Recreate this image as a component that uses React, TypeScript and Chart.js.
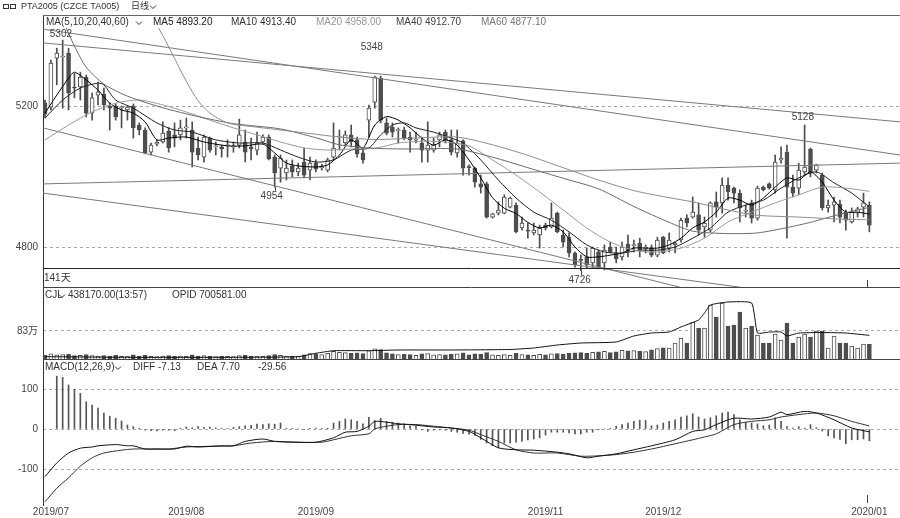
import React, { useEffect, useRef } from 'react';
import { Chart, registerables } from 'chart.js';

Chart.register(...registerables);

// ---------------- data ----------------
const OPEN = [5209,5197,5336,5339,5350,5253,5254,5282,5180,5231, 5234,5200,5200,5195,5189,5200,5146,5132,5069,5092, 5098,5129,5118,5118,5138,5132,5081,5055,5109,5084, 5084,5087,5084,5089,5098,5084,5075,5098,5112,5055, 5024,5010,5030,5013,5041,5018,5038,5025,5018,5055, 5112,5095,5118,5104,5067,5160,5211,5279,5152,5140, 5130,5132,5112,5103,5095,5075,5075,5104,5126,5104, 5067,5101,5028,5024,4979,4979,4885,4896,4896,4913, 4919,4854,4847,4840,4834,4862,4857,4896,4834,4828, 4783,4764,4772,4755,4786,4755,4800,4783,4772,4808, 4804,4811,4796,4797,4777,4828,4797,4806,4820,4882, 4885,4891,4857,4848,4928,4925,4976,4967,4953,4902, 4925,4882,4970,4979,4962,5047,5069,4970,4967,5013, 5078,5018,5004,4911,4919,4922,4899,4871,4896,4913, 4919];
const HIGH = [5217,5330,5364,5387,5364,5293,5296,5288,5237,5268, 5251,5209,5206,5200,5200,5206,5152,5138,5095,5104, 5155,5138,5152,5160,5166,5155,5112,5118,5112,5098, 5089,5104,5098,5163,5132,5109,5126,5118,5118,5061, 5061,5047,5047,5038,5081,5055,5047,5035,5052,5152, 5132,5129,5146,5112,5081,5203,5285,5285,5166,5152, 5138,5140,5126,5126,5112,5155,5109,5126,5132,5132, 5132,5104,5033,5027,5004,4984,4896,4928,4948,4942, 4925,4885,4868,4868,4862,4868,4925,4899,4848,4840, 4786,4777,4797,4800,4791,4806,4814,4800,4814,4834, 4820,4825,4806,4806,4828,4830,4840,4814,4882,4891, 4942,4925,4885,4928,4956,4996,4996,4970,4962,4919, 4933,4973,4973,4982,5061,5084,5089,5004,5038,5146, 5081,5035,5010,4933,4942,4933,4905,4911,4913,4953, 4928];
const LOW = [5166,5189,5260,5194,5189,5223,5217,5169,5160,5203, 5189,5132,5160,5138,5160,5109,5118,5064,5061,5087, 5095,5069,5084,5104,5109,5027,5047,5041,5069,5061, 5055,5055,5069,5081,5041,5047,5061,5095,5047,4970, 4984,4990,4999,5002,4996,4990,5013,5018,5013,5047, 5075,5090,5084,5055,5038,5112,5194,5152,5118,5112, 5095,5104,5069,5095,5041,5041,5069,5084,5095,5061, 5055,5004,5004,4970,4953,4882,4882,4891,4894,4911, 4840,4848,4825,4834,4797,4848,4854,4840,4800,4772, 4743,4733,4741,4743,4738,4735,4783,4755,4763,4772, 4786,4772,4783,4772,4772,4781,4786,4783,4814,4857, 4882,4834,4828,4843,4885,4896,4933,4925,4871,4885, 4868,4876,4959,4964,4953,5038,4825,4942,4948,5004, 4999,5010,4905,4899,4871,4868,4848,4868,4885,4885, 4843];
const CLOSE = [5177,5322,5350,5342,5237,5251,5282,5180,5223,5240, 5203,5194,5169,5198,5197,5138,5132,5067,5089,5098, 5123,5081,5109,5138,5141,5069,5061,5112,5075,5086, 5078,5089,5087,5118,5069,5078,5095,5112,5050,5010, 5052,5024,5013,5024,5004,5038,5021,5028,5047,5081, 5115,5118,5098,5064,5047,5194,5282,5160,5123,5126, 5133,5109,5104,5105,5075,5089,5089,5118,5104,5069, 5095,5024,5025,4984,4970,4885,4894,4905,4942,4939, 4843,4868,4845,4848,4854,4854,4882,4843,4814,4783, 4749,4762,4749,4797,4743,4791,4786,4766,4800,4789, 4807,4791,4798,4777,4820,4783,4820,4811,4876,4868, 4899,4848,4868,4925,4913,4976,4956,4953,4911,4905, 4882,4967,4962,4967,5041,5052,4970,4953,5018,5027, 5010,5033,4911,4919,4928,4885,4876,4899,4908,4925, 4862];

// volume in 万 (10k lots)
const VOLUME = [11,15,12,13,14,10,11,13,10,9, 10,9,11,8,9,12,9,11,8,7, 9,10,8,9,8,12,9,10,9,7, 8,8,7,10,11,9,9,8,10,13, 11,9,9,8,12,16,15,13,17,23, 20,19,17,18,16,25,30,28,18,15, 13,14,13,11,15,16,12,13,12,14, 15,18,12,15,14,19,12,11,13,11, 17,13,12,11,14,12,15,16,14,17, 18,19,17,20,21,23,19,21,26,24, 25,23,22,27,31,33,32,47.4,62.2,47.4, 109.7,91.9,91.9,160.1,124.5,166,97.8,100.8,139.3,91.9, 97.8,71.1,47.4,47.4,74.1,56.3,106.7,47.4,65.2,74.1, 65.2,83,83,32.6,68.2,47.4,47.4,38.5,32.6,44.5, 43.817];
// open interest (万), read at [day index, value]
const OPID_PTS = [[0,7],[14,5],[32,5],[43,6.8],[46,17],[49,24.6],[55,24.6],[60,26.7],[69,26.7],[79,28.2],[83,32.6],[87,41.5],[91,47.4],[97,50.4],[100,68.2],[103,77.1],[106,80],[108,94.9],[111,115.6],[112,136.4],[113,160.1],[116,169],[120,166],[121,77.1],[123,80],[125,80],[126,68.2],[128,77],[132,78.5],[136,77],[140,70.0581]];

const MA5_PTS = [[0,5180],[2,5231],[4,5279],[5,5296],[7,5274],[9,5245],[11,5208],[13,5189],[15,5180],[17,5155],[19,5104],[21,5109],[24,5112],[27,5098],[31,5087],[34,5087],[37,5092],[39,5067],[41,5038],[43,5030],[46,5027],[48,5033],[50,5061],[52,5104],[54,5081],[56,5146],[58,5170],[60,5160],[62,5138],[64,5109],[66,5089],[68,5104],[70,5089],[72,5047],[74,4996],[76,4940],[78,4910],[80,4895],[82,4870],[84,4854],[86,4862],[88,4843],[90,4800],[92,4772],[94,4772],[96,4777],[98,4783],[100,4797],[102,4797],[104,4797],[106,4806],[108,4825],[110,4854],[112,4871],[114,4899],[116,4939],[118,4933],[120,4919],[122,4939],[124,4970],[126,4996],[128,4990],[130,5013],[132,4984],[134,4933],[136,4899],[138,4899],[140,4893.2]];
const MA10_PTS = [[0,5166],[3,5217],[6,5251],[9,5265],[10,5260],[12,5217],[15,5194],[19,5152],[22,5132],[25,5126],[29,5104],[33,5095],[37,5095],[40,5075],[43,5055],[46,5041],[49,5047],[52,5075],[55,5081],[57,5118],[59,5146],[61,5152],[63,5138],[66,5126],[69,5109],[71,5095],[74,5047],[77,4990],[80,4939],[83,4899],[86,4876],[89,4843],[92,4806],[95,4786],[98,4783],[101,4791],[104,4791],[107,4800],[110,4825],[113,4854],[116,4899],[119,4919],[122,4933],[125,4967],[128,4996],[131,5013],[134,4982],[137,4953],[140,4913.4]];
const MA20_PTS = [[0,5104],[4,5146],[8,5183],[12,5208],[16,5217],[20,5203],[24,5183],[28,5160],[32,5138],[36,5118],[40,5098],[44,5081],[48,5075],[52,5078],[56,5080],[60,5095],[64,5100],[68,5098],[72,5087],[76,5047],[80,5004],[84,4956],[88,4905],[92,4854],[96,4814],[100,4791],[104,4786],[108,4797],[112,4825],[116,4871],[120,4899],[124,4925],[128,4948],[132,4970],[136,4967],[140,4958]];
const MA40_PTS = [[3,5444],[5,5370],[7,5310],[10,5262],[14,5228],[20,5195],[26,5170],[32,5150],[40,5135],[46,5110],[50,5090],[56,5080],[62,5078],[70,5078],[76,5055],[82,5025],[88,4995],[94,4965],[100,4915],[106,4870],[110,4845],[116,4838],[121,4840],[126,4855],[130,4870],[135,4893],[140,4912.7]];
const MA60_PTS = [[18,5458],[20,5400],[22,5335],[24,5270],[26,5215],[28,5180],[31,5152],[36,5140],[43,5126],[50,5112],[56,5105],[64,5110],[70,5112],[76,5090],[82,5060],[88,5025],[94,4990],[100,4960],[106,4940],[110,4928],[116,4905],[121,4890],[128,4885],[134,4880],[140,4877.1]];

// user drawn trend lines: [startIndex, startPrice, endIndex, endPrice]
const TREND_LINES = [[-0.34,5379,145.2,5155],[-0.34,5418,145.2,5061],[-0.34,5138,107.8,4686],[-0.34,4953,118,4686],[-0.34,4979,145.2,5038]];

const MACD_HIST = [null,null,132,129,110,99,89,68,60,52, 40,32,27,20,10,6,2,-3,-4,-5, -3,-3,-4,2,5,3,6,4,5,3, 2,1,4,6,8,9,12,11,13,12, 15,2,1,0,-1,1,2,1,2,15, 19,25,23,19,13,29,21,27,19,17, 15,13,8,7,-2,-6,-3,-2,-3,-6, -8,-11,-13,-16,-26,-35,-42,-47,-35,-35, -33,-31,-27,-25,-22,-15,-8,-8,-8,-10, -12,-12,-8,-8,-2,0,2,7,11,15, 19,22,21,8,10,15,19,23,30,33, 38,30,25,28,33,40,42,36,23,17, 15,13,8,10,28,19,6,2,6,2, 11,3,-5,-17,-22,-26,-37,-27,-27,-25, -29.56];
const DIFF_PTS = [[0,-119],[2,-85],[4,-60],[6,-48],[8,-45],[9,-42],[12,-39],[14,-42],[15,-42],[17,-50],[19,-50],[22,-50],[24,-43],[26,-45],[30,-42],[32,-42],[34,-31],[37,-25],[39,-31],[42,-33],[46,-33],[49,-22],[51,-8],[53,-6],[55,7],[56,19],[58,17],[60,13],[62,11],[66,5],[69,2.5],[72,-6],[74,-22],[77,-47],[80,-52],[83,-53],[87,-58],[89,-62],[92,-72],[94,-68],[97,-62],[100,-52],[103,-42],[107,-27],[110,-6],[112,-2],[114,11],[117,27],[120,25],[123,30],[125,42],[126,36],[129,44],[131,40],[134,23],[137,2.5],[140,-7.13]];
const DEA_PTS = [[0,-182],[2,-148],[4,-122],[6,-93],[8,-72],[10,-60],[13,-53],[15,-50],[18,-50],[21,-50],[24,-45],[29,-43],[32,-42],[35,-35],[39,-31],[43,-33],[47,-33],[49,-27],[52,-17],[55,-12],[56,0],[58,7],[60,11],[63,11],[66,7],[69,2.5],[72,-3],[74,-14],[77,-31],[80,-52],[83,-60],[87,-60],[91,-68],[94,-67],[97,-64],[100,-58],[103,-50],[107,-37],[110,-27],[112,-20],[114,-12],[117,11],[120,19],[123,23],[125,30],[128,36],[131,40],[134,33],[137,19],[140,7.7]];

const MONTH_IDX = [1, 24, 46, 85, 105, 140];
const MONTH_LABELS = ['2019/07', '2019/08', '2019/09', '2019/11', '2019/12', '2020/01'];
const PRICE_TICKS = [5200, 4800];
const VOL_TICKS = [83];
const MACD_TICKS = [100, 0, -100];

const ANNOT_TEXT = ['5302', '5348', '4954', '4726', '5128'];
const ANNOT_IDX = [2.7, 55.5, 38.5, 90.8, 128.7];
const ANNOT_PRICE = [5404, 5367, 4945, 4706, 5169];
const ANNOT_CANDLE = [3, 56, 39, 91, 129];

// ---------------- layout / style ----------------
const W = 900, H = 518;
const FONT = '"Liberation Sans", "Noto Sans CJK SC", sans-serif';
const INK = '#333';
const DARK = '#4d4d4d';
const X_MIN = -0.34, X_MAX = 145.2;
const P_MIN = 4068.1, P_MAX = 5458.2;
const V_MIN = -432.79, V_MAX = 1019.71;
const M_MIN = -190, M_MAX = 1035;
const PRICE_BOTTOM = 268;
const ROW_BOTTOM = 287;
const PRICE_CLIP = { left: 0, right: 0, top: -13, bottom: -(505 - ROW_BOTTOM) };

const pts = (a: number[][]) => a.map(([x, y]) => ({ x, y }));
const idx = OPEN.map((_, i) => i);
const up = (i: number) => CLOSE[i] >= OPEN[i];

function chev(ctx: CanvasRenderingContext2D, x: number, y: number) {
  ctx.beginPath();
  ctx.moveTo(x, y - 1.5);
  ctx.lineTo(x + 3, y + 1.5);
  ctx.lineTo(x + 6, y - 1.5);
  ctx.stroke();
}

const decor = {
  id: 'decor',
  afterDraw(chart: any) {
    const { ctx, chartArea: ca, scales } = chart;
    const xs = scales.x, yP = scales.yP, yV = scales.yV;
    ctx.save();
    const hl = (y: number, x0: number, x1: number, c: string) => {
      ctx.strokeStyle = c; ctx.lineWidth = 1;
      ctx.beginPath(); ctx.moveTo(x0, Math.round(y) + 0.5); ctx.lineTo(x1, Math.round(y) + 0.5); ctx.stroke();
    };
    hl(ca.top, ca.left, ca.right, '#666');
    hl(PRICE_BOTTOM, ca.left, ca.right, '#222');
    hl(ROW_BOTTOM, ca.left, ca.right, '#444');
    hl(yV.getPixelForValue(0), ca.left, ca.right, '#444');

    const txt = (s: string, x: number, y: number, color = INK, size = 10, align: CanvasTextAlign = 'left') => {
      ctx.font = `${size}px ${FONT}`; ctx.fillStyle = color; ctx.textAlign = align; ctx.textBaseline = 'middle';
      ctx.fillText(s, x, y);
    };
    ctx.strokeStyle = '#333'; ctx.lineWidth = 1;
    // top title
    ctx.strokeRect(3.5, 4.5, 5, 4); ctx.strokeRect(10.5, 4.5, 5, 4);
    txt('PTA2005 (CZCE TA005)', 21, 7, INK, 9);
    txt('日线', 131, 7, INK, 9);
    ctx.strokeStyle = '#333'; chev(ctx, 150, 7);
    // price header
    txt('MA(5,10,20,40,60)', 46, 22);
    chev(ctx, 136, 23);
    txt('MA5 4893.20', 153, 22, '#222');
    txt('MA10 4913.40', 231, 22, '#333');
    txt('MA20 4958.00', 316, 22, '#999');
    txt('MA40 4912.70', 396, 22, '#444');
    txt('MA60 4877.10', 481, 22, '#777');
    // days row
    txt('141天', 44, 278);
    // volume header
    txt('CJL', 45, 295); chev(ctx, 59, 296);
    txt('438170.00(13:57)', 68, 295);
    txt('OPID 700581.00', 172, 295);
    // macd header
    txt('MACD(12,26,9)', 45, 367); chev(ctx, 115, 368);
    txt('DIFF -7.13', 133, 367);
    txt('DEA 7.70', 197, 367);
    txt('-29.56', 258, 367);
    // high/low annotations
    for (let k = 0; k < ANNOT_TEXT.length; k++) {
      const ax = xs.getPixelForValue(ANNOT_IDX[k]);
      const ay = yP.getPixelForValue(ANNOT_PRICE[k]);
      txt(ANNOT_TEXT[k], ax, ay, '#444', 10, 'center');
      const c = ANNOT_CANDLE[k];
      const lowY = yP.getPixelForValue(LOW[c]);
      if (ay > lowY) {
        const cx = Math.round(xs.getPixelForValue(c)) + 0.5;
        ctx.strokeStyle = '#444';
        ctx.beginPath(); ctx.moveTo(cx, lowY); ctx.lineTo(cx, ay - 5); ctx.stroke();
      }
    }
    // cursor marks at last bar
    const lx = Math.round(xs.getPixelForValue(idx.length - 1.4)) + 0.5;
    ctx.strokeStyle = '#444';
    ctx.beginPath(); ctx.moveTo(lx, ROW_BOTTOM - 7); ctx.lineTo(lx, ROW_BOTTOM); ctx.stroke();
    ctx.beginPath(); ctx.moveTo(lx, ca.bottom - 10); ctx.lineTo(lx, ca.bottom - 2); ctx.stroke();
    ctx.restore();
  },
};

function yAxis(min: number, max: number, ticks: number[], fmt: (v: number) => string, border: boolean) {
  return {
    type: 'linear',
    position: 'left',
    min, max,
    bounds: 'data',
    afterBuildTicks: (s: any) => { s.ticks = ticks.map((v) => ({ value: v })); },
    afterFit: (s: any) => {
      s.width = 0;
      // let the labels draw in the left margin (the axis box itself has no width)
      s._computeLabelArea = () => undefined;
    },
    grid: { color: '#aaa', lineWidth: 1, drawTicks: false },
    border: { display: border, color: '#333', dash: [3, 3] },
    ticks: { padding: 5, font: { family: FONT, size: 10 }, color: '#444', autoSkip: false, callback: (v: any) => fmt(Number(v)) },
  };
}

export default function App() {
  const ref = useRef<HTMLCanvasElement | null>(null);
  useEffect(() => {
    document.body.style.margin = '0';
    const canvas = ref.current;
    if (!canvas) return;
    const lineDs = (data: number[][], color: string, yAxisID: string, order: number, extra: any = {}) => ({
      type: 'line', data: pts(data), borderColor: color, borderWidth: 1, pointRadius: 0, tension: 0.25,
      yAxisID, order, ...extra,
    });
    const datasets: any[] = [
      // candle wicks
      {
        type: 'bar', yAxisID: 'yP', order: 4, grouped: false, barThickness: 1, clip: PRICE_CLIP,
        data: idx.map((i) => ({ x: i, y: [LOW[i], HIGH[i]] })), backgroundColor: DARK, borderWidth: 0,
      },
      // candle bodies
      {
        type: 'bar', yAxisID: 'yP', order: 3, grouped: false, barThickness: 4, minBarLength: 1, clip: PRICE_CLIP,
        data: idx.map((i) => ({ x: i, y: [OPEN[i], CLOSE[i]] })),
        backgroundColor: idx.map((i) => (up(i) ? '#ffffff' : DARK)), borderColor: DARK, borderWidth: 1, borderSkipped: false,
      },
      lineDs(MA60_PTS, '#8c8c8c', 'yP', 1, { clip: PRICE_CLIP }),
      lineDs(MA40_PTS, '#6a6a6a', 'yP', 1, { clip: PRICE_CLIP }),
      lineDs(MA20_PTS, '#9a9a9a', 'yP', 1, { clip: PRICE_CLIP }),
      lineDs(MA10_PTS, '#222', 'yP', 1, { clip: PRICE_CLIP }),
      lineDs(MA5_PTS, '#000', 'yP', 1, { clip: PRICE_CLIP }),
      ...TREND_LINES.map(([x1, p1, x2, p2]) =>
        lineDs([[x1, p1], [x2, p2]], '#7a7a7a', 'yP', 1, { tension: 0, clip: PRICE_CLIP })),
      // volume
      {
        type: 'bar', yAxisID: 'yV', order: 3, grouped: false, barThickness: 4,
        data: idx.map((i) => ({ x: i, y: VOLUME[i] })),
        backgroundColor: idx.map((i) => (up(i) ? '#ffffff' : DARK)), borderColor: DARK, borderWidth: 1, borderSkipped: 'bottom',
      },
      lineDs(OPID_PTS, '#111', 'yV', 1, { tension: 0.15 }),
      // MACD
      {
        type: 'bar', yAxisID: 'yM', order: 3, grouped: false, barThickness: 1,
        data: idx.map((i) => ({ x: i, y: MACD_HIST[i] })), backgroundColor: '#555', borderWidth: 0,
      },
      lineDs(DIFF_PTS, '#111', 'yM', 1),
      lineDs(DEA_PTS, '#333', 'yM', 1),
    ];
    const chart = new Chart(canvas, {
      type: 'bar',
      data: { datasets },
      options: {
        animation: false,
        responsive: false,
        maintainAspectRatio: false,
        devicePixelRatio: 1,
        events: [],
        layout: { padding: { left: 43, right: 0, top: 15, bottom: 0 }, autoPadding: false },
        plugins: { legend: { display: false }, tooltip: { enabled: false }, title: { display: false } },
        scales: {
          x: {
            type: 'linear', position: 'bottom', min: X_MIN, max: X_MAX, bounds: 'data', offset: false,
            grid: { display: false, drawTicks: false }, border: { display: false },
            afterBuildTicks: (s: any) => { s.ticks = MONTH_IDX.map((v) => ({ value: v })); },
            afterFit: (s: any) => { s.height = 13; },
            ticks: {
              autoSkip: false, maxRotation: 0, padding: 1, font: { family: FONT, size: 10 }, color: '#444',
              callback: (_v: any, i: number) => MONTH_LABELS[i] ?? '',
            },
          },
          yP: yAxis(P_MIN, P_MAX, PRICE_TICKS, (v) => String(v), true),
          yV: yAxis(V_MIN, V_MAX, VOL_TICKS, (v) => `${v}万`, false),
          yM: yAxis(M_MIN, M_MAX, MACD_TICKS, (v) => String(v), false),
        },
      } as any,
      plugins: [decor],
    });
    return () => chart.destroy();
  }, []);
  return (
    <div style={{ position: 'fixed', left: 0, top: 0, width: W, height: H, background: '#fff' }}>
      <canvas ref={ref} width={W} height={H} style={{ width: W, height: H, display: 'block' }} />
    </div>
  );
}
